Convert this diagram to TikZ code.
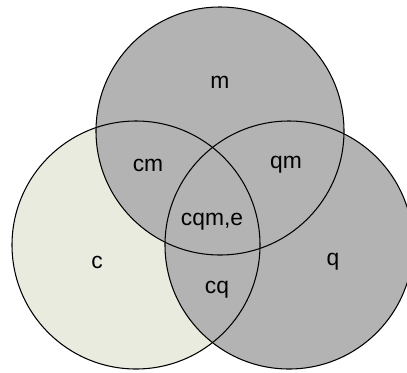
\documentclass[tikz,border=0pt]{standalone}
\usepackage{fontspec}
\setmainfont{Liberation Sans}
\usepackage{xcolor}
\definecolor{setgray}{HTML}{B3B3B3}
\definecolor{setpale}{HTML}{E9EBDF}
\tikzset{%
	set outline/.style={
		draw=black,
		line width=0.6pt
	},
	set label/.style={
		font=\fontsize{13}{15}\selectfont,
		inner sep=0pt
	},
}

\begin{document}
\begin{tikzpicture}
			
			\useasboundingbox (0,0) rectangle (8.14,-7.44);
			
			\coordinate (cc) at (2.72,-4.90);
			\coordinate (mc) at (4.40,-2.62);
			\coordinate (qc) at (5.78,-4.90);
			
			\fill[setpale] (cc) circle [radius=2.48];
			\fill[setgray] (mc) circle [radius=2.48];
			\fill[setgray] (qc) circle [radius=2.48];
			
			\draw[set outline] (cc) circle [radius=2.48];
			\draw[set outline] (mc) circle [radius=2.48];
			\draw[set outline] (qc) circle [radius=2.48];
			
			\node[set label] (m) at (4.40,-1.64) {m};
			\node[set label] (cm) at (2.96,-3.30) {cm};
			\node[set label] (qm) at (5.72,-3.30) {qm};
			\node[set label] (cqm) at (4.24,-4.44) {cqm,e};
			\node[set label] (c) at (1.94,-5.24) {c};
			\node[set label] (cq) at (4.34,-5.80) {cq};
			\node[set label] (q) at (6.66,-5.24) {q};
			
		\end{tikzpicture}
\end{document}
